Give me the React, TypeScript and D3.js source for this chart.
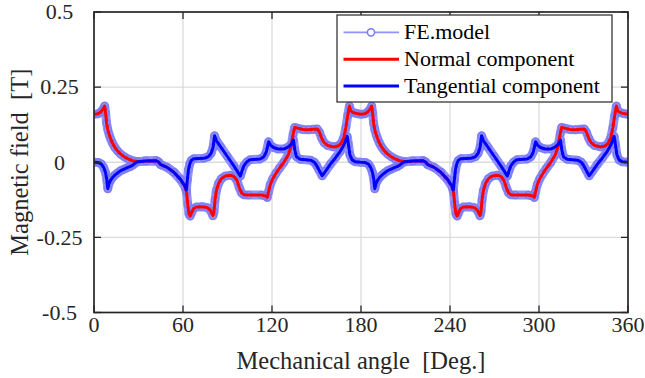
import React from 'react';
import * as d3 from 'd3';

const xTicks = [0, 60, 120, 180, 240, 300, 360];
const yTicks = [-0.5, -0.25, 0, 0.25, 0.5];
const yTickLabels = ['-0.5', '-0.25', '0', '0.25', '0.5'];
const legendLabels = ['FE.model', 'Normal component', 'Tangential component'];
const xLabel = 'Mechanical angle  [Deg.]';
const yLabel = 'Magnetic field  [T]';

// [angle (deg), field (T)]
const normalComponent: [number, number][] = [
  [0, 0.160], [2.5, 0.161], [4.5, 0.167], [6, 0.176], [7.2, 0.187], [7.8, 0.165], [8.5, 0.130], [9.3, 0.108],
  [10.2, 0.092], [11.3, 0.077], [12.5, 0.063], [14, 0.050], [15.8, 0.038], [18, 0.027], [20.5, 0.018], [23, 0.011],
  [26, 0.005], [29, 0.002], [35, 0.004], [42, 0.005], [43.5, 0.001], [45, -0.008], [49.3, -0.017], [53.8, -0.033],
  [58.3, -0.057], [61.3, -0.080], [62.4, -0.100], [63.2, -0.140], [64, -0.172], [64.8, -0.179], [65.8, -0.168],
  [67, -0.155], [69, -0.149], [73, -0.148], [76.5, -0.151], [78.5, -0.160], [80.2, -0.178], [80.9, -0.165],
  [81.6, -0.125], [82.5, -0.095], [84, -0.070], [86, -0.054], [88.5, -0.046], [92, -0.043], [94.5, -0.048],
  [96.5, -0.062], [98, -0.085], [99.5, -0.102], [101, -0.108], [104, -0.109], [113, -0.109], [115.5, -0.112],
  [116.8, -0.117], [117.6, -0.100], [118.8, -0.075], [120.5, -0.055], [122.5, -0.038], [125, -0.020], [128, 0.000],
  [131, 0.025], [133, 0.055], [134.3, 0.095], [135.3, 0.116], [137.5, 0.113], [141, 0.109], [144.5, 0.108],
  [148, 0.110], [150.5, 0.111], [152, 0.100], [153.5, 0.080], [155, 0.066], [157.5, 0.056], [161.5, 0.051],
  [164.5, 0.054], [166.5, 0.062], [168.4, 0.082], [169.8, 0.115], [171, 0.155], [172.2, 0.187], [173, 0.172],
  [174.5, 0.166], [177, 0.162], [180, 0.160],
  [182.5, 0.161], [184.5, 0.167], [186, 0.176], [187.2, 0.187], [187.8, 0.165], [188.5, 0.130], [189.3, 0.108],
  [190.2, 0.092], [191.3, 0.077], [192.5, 0.063], [194, 0.050], [195.8, 0.038], [198, 0.027], [200.5, 0.018],
  [203, 0.011], [206, 0.005], [209, 0.002], [215, 0.004], [222, 0.005], [223.5, 0.001], [225, -0.008],
  [229.3, -0.017], [233.8, -0.033], [238.3, -0.057], [241.3, -0.080], [242.4, -0.100], [243.2, -0.140],
  [244, -0.172], [244.8, -0.179], [245.8, -0.168], [247, -0.155], [249, -0.149], [253, -0.148], [256.5, -0.151],
  [258.5, -0.160], [260.2, -0.178], [260.9, -0.165], [261.6, -0.125], [262.5, -0.095], [264, -0.070],
  [266, -0.054], [268.5, -0.046], [272, -0.043], [274.5, -0.048], [276.5, -0.062], [278, -0.085], [279.5, -0.102],
  [281, -0.108], [284, -0.109], [293, -0.109], [295.5, -0.112], [296.8, -0.117], [297.6, -0.100], [298.8, -0.075],
  [300.5, -0.055], [302.5, -0.038], [305, -0.020], [308, 0.000], [311, 0.025], [313, 0.055], [314.3, 0.095],
  [315.3, 0.116], [317.5, 0.113], [321, 0.109], [324.5, 0.108], [328, 0.110], [330.5, 0.111], [332, 0.100],
  [333.5, 0.080], [335, 0.066], [337.5, 0.056], [341.5, 0.051], [344.5, 0.054], [346.5, 0.062], [348.4, 0.082],
  [349.8, 0.115], [351, 0.155], [352.2, 0.187], [353, 0.172], [354.5, 0.166], [357, 0.162], [360, 0.160],
];

const tangentialComponent: [number, number][] = [
  [0, 0.000], [3, -0.001], [5, -0.006], [6.6, -0.018], [7.8, -0.035], [8.7, -0.060], [9.3, -0.088], [10.2, -0.070],
  [11.3, -0.059], [12.5, -0.051], [14, -0.043], [15.8, -0.036], [18, -0.028], [20.3, -0.023], [22.5, -0.018],
  [24.6, -0.014], [26.5, -0.008], [28, -0.002], [29.5, 0.002], [35, 0.004], [42, 0.005], [43.5, 0.001],
  [45, -0.008], [49.3, -0.017], [53.8, -0.033], [58.3, -0.057], [61.3, -0.080], [62.2, -0.092], [62.9, -0.060],
  [63.7, -0.025], [64.6, -0.005], [65.6, 0.006], [67.3, 0.012], [74, 0.013], [77, 0.018], [79, 0.030],
  [80.3, 0.050], [81.3, 0.088], [82.5, 0.072], [85.3, 0.052], [89.8, 0.020], [94.3, -0.012], [98.7, -0.046],
  [99.8, -0.028], [101, -0.012], [103, 0.001], [105, 0.008], [112, 0.011], [114.5, 0.018], [116.2, 0.035],
  [117.7, 0.068], [119, 0.057], [121, 0.049], [124, 0.044], [128, 0.044], [131, 0.051], [133, 0.060],
  [134.5, 0.074], [135.4, 0.040], [136.5, 0.018], [139, 0.010], [146, 0.007], [148.5, 0.000], [150, -0.010],
  [151.5, -0.024], [153.8, -0.045], [156, -0.030], [159.4, -0.006], [163, 0.016], [166.1, 0.037], [168.5, 0.058],
  [170.7, 0.086], [171.5, 0.060], [172.5, 0.025], [174, 0.008], [176, 0.002], [180, 0.000],
  [183, -0.001], [185, -0.006], [186.6, -0.018], [187.8, -0.035], [188.7, -0.060], [189.3, -0.088],
  [190.2, -0.070], [191.3, -0.059], [192.5, -0.051], [194, -0.043], [195.8, -0.036], [198, -0.028],
  [200.3, -0.023], [202.5, -0.018], [204.6, -0.014], [206.5, -0.008], [208, -0.002], [209.5, 0.002],
  [215, 0.004], [222, 0.005], [223.5, 0.001], [225, -0.008], [229.3, -0.017], [233.8, -0.033], [238.3, -0.057],
  [241.3, -0.080], [242.2, -0.092], [242.9, -0.060], [243.7, -0.025], [244.6, -0.005], [245.6, 0.006],
  [247.3, 0.012], [254, 0.013], [257, 0.018], [259, 0.030], [260.3, 0.050], [261.3, 0.088], [262.5, 0.072],
  [265.3, 0.052], [269.8, 0.020], [274.3, -0.012], [278.7, -0.046], [279.8, -0.028], [281, -0.012],
  [283, 0.001], [285, 0.008], [292, 0.011], [294.5, 0.018], [296.2, 0.035], [297.7, 0.068], [299, 0.057],
  [301, 0.049], [304, 0.044], [308, 0.044], [311, 0.051], [313, 0.060], [314.5, 0.074], [315.4, 0.040],
  [316.5, 0.018], [319, 0.010], [326, 0.007], [328.5, 0.000], [330, -0.010], [331.5, -0.024], [333.8, -0.045],
  [336, -0.030], [339.4, -0.006], [343, 0.016], [346.1, 0.037], [348.5, 0.058], [350.7, 0.086], [351.5, 0.060],
  [352.5, 0.025], [354, 0.008], [356, 0.002], [360, 0.000],
];

// FE model follows both components
const feModelSeries = [normalComponent, tangentialComponent];

const FONT = 'Liberation Serif';
const AXIS = '#262626';
const FE_BAND = '#9191ff';
const FE_MARK = '#7a7af2';

export default function App() {
  const W = 645;
  const H = 378;
  const left = 94, right = 628, top = 12, bottom = 312.5;
  const x = d3.scaleLinear().domain([0, 360]).range([left, right]);
  const y = d3.scaleLinear().domain([-0.5, 0.5]).range([bottom, top]);
  const line = d3.line<[number, number]>().x((d) => x(d[0])).y((d) => y(d[1]));
  const tick = 7;

  const lgX = 337, lgY = 15, lgW = 275, lgH = 87;
  const rowY = [32.3, 59.2, 86];

  return (
    <svg width={W} height={H} style={{ position: 'fixed', left: 0, top: 0, background: '#fff' }}>
      <rect x={0} y={0} width={W} height={H} fill="#fff" />
      <defs>
        <clipPath id="plotClip">
          <rect x={left} y={top} width={right - left} height={bottom - top} />
        </clipPath>
      </defs>
      {/* grid */}
      {xTicks.slice(1, -1).map((t) => (
        <line key={'gx' + t} x1={x(t)} x2={x(t)} y1={top} y2={bottom} stroke="#dcdcdc" strokeWidth={1.3} />
      ))}
      {yTicks.slice(1, -1).map((t) => (
        <line key={'gy' + t} x1={left} x2={right} y1={y(t)} y2={y(t)} stroke="#dcdcdc" strokeWidth={1.3} />
      ))}
      {/* data */}
      <g clipPath="url(#plotClip)">
        {feModelSeries.map((s, i) => (
          <path key={'feb' + i} d={line(s) || ''} fill="none" stroke={FE_BAND} strokeWidth={9}
            strokeLinejoin="round" strokeLinecap="round" />
        ))}
        {feModelSeries.map((s, i) => (
          <g key={'fem' + i}>
            {s.map((d, j) => (
              <circle key={j} cx={x(d[0])} cy={y(d[1])} r={3.6} fill="none" stroke={FE_MARK} strokeWidth={1.2} />
            ))}
          </g>
        ))}
        <path d={line(normalComponent) || ''} fill="none" stroke="#ff0000" strokeWidth={3} strokeLinejoin="round" />
        <path d={line(tangentialComponent) || ''} fill="none" stroke="#0000ff" strokeWidth={3} strokeLinejoin="round" />
      </g>
      {/* ticks */}
      {xTicks.map((t) => (
        <g key={'tx' + t}>
          <line x1={x(t)} x2={x(t)} y1={bottom} y2={bottom - tick} stroke={AXIS} strokeWidth={1.3} />
          <line x1={x(t)} x2={x(t)} y1={top} y2={top + tick} stroke={AXIS} strokeWidth={1.3} />
          <text x={x(t)} y={331.5} textAnchor="middle" fontSize={22} fontFamily={FONT} fill="#262626">{t}</text>
        </g>
      ))}
      {yTicks.map((t, i) => (
        <g key={'ty' + t}>
          <line x1={left} x2={left + tick} y1={y(t)} y2={y(t)} stroke={AXIS} strokeWidth={1.3} />
          <line x1={right} x2={right - tick} y1={y(t)} y2={y(t)} stroke={AXIS} strokeWidth={1.3} />
          <text x={59.5} y={y(t) + 7.3} textAnchor="middle" fontSize={22} fontFamily={FONT}
            fill="#262626">{yTickLabels[i]}</text>
        </g>
      ))}
      {/* axes box */}
      <rect x={left} y={top} width={right - left} height={bottom - top} fill="none" stroke={AXIS} strokeWidth={1.7} />
      {/* labels */}
      <text x={(left + right) / 2} y={369} textAnchor="middle" fontSize={24.5} fontFamily={FONT} fill="#262626"
        style={{ whiteSpace: 'pre' }}>{xLabel}</text>
      <text transform={`translate(27.5,${(top + bottom) / 2}) rotate(-90)`} textAnchor="middle" fontSize={24.5}
        fontFamily={FONT} fill="#262626" style={{ whiteSpace: 'pre' }}>{yLabel}</text>
      {/* legend */}
      <rect x={lgX} y={lgY} width={lgW} height={lgH} fill="#fff" stroke={AXIS} strokeWidth={1.2} />
      <line x1={343.5} x2={399} y1={rowY[0]} y2={rowY[0]} stroke={FE_BAND} strokeWidth={1.8} />
      <circle cx={371} cy={rowY[0]} r={3.6} fill="#fff" stroke={FE_MARK} strokeWidth={1.5} />
      <line x1={343.5} x2={399} y1={rowY[1]} y2={rowY[1]} stroke="#ff0000" strokeWidth={3} />
      <line x1={343.5} x2={399} y1={rowY[2]} y2={rowY[2]} stroke="#0000ff" strokeWidth={3} />
      {legendLabels.map((l, i) => (
        <text key={l} x={404} y={rowY[i] + 6.5} fontSize={22} fontFamily={FONT} fill="#000">{l}</text>
      ))}
    </svg>
  );
}
